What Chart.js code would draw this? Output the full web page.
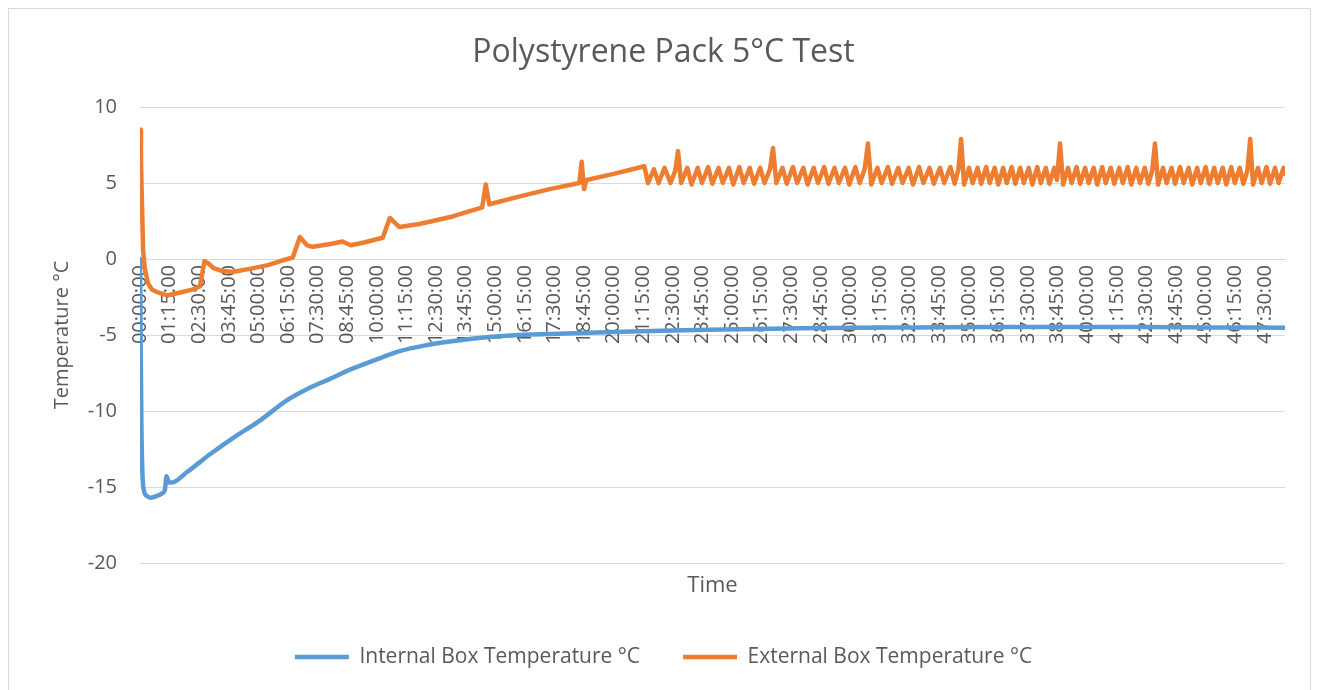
<!DOCTYPE html>
<html><head><meta charset="utf-8">
<script src="https://cdn.jsdelivr.net/npm/chart.js@4.4.1/dist/chart.umd.min.js"></script>
<style>
html,body{margin:0;padding:0;background:#fff;}
#wrap{position:relative;width:1319px;height:690px;overflow:hidden;}
#frame{position:absolute;left:8px;top:8px;width:1303px;height:700px;border:1px solid #d9d9d9;box-sizing:border-box;pointer-events:none;}
canvas{display:block;}
</style></head><body>
<div id="wrap"><canvas id="c" width="1319" height="690"></canvas><div id="frame"></div></div>
<script>
// Tick labels of the time axis
const xTickLabels = ["00:00:00","01:15:00","02:30:00","03:45:00","05:00:00","06:15:00","07:30:00","08:45:00","10:00:00","11:15:00","12:30:00","13:45:00","15:00:00","16:15:00","17:30:00","18:45:00","20:00:00","21:15:00","22:30:00","23:45:00","25:00:00","26:15:00","27:30:00","28:45:00","30:00:00","31:15:00","32:30:00","33:45:00","35:00:00","36:15:00","37:30:00","38:45:00","40:00:00","41:15:00","42:30:00","43:45:00","45:00:00","46:15:00","47:30:00"];

// Internal box temperature (hours since start, °C)
const internalHours = [0,0.03,0.06,0.1,0.16,0.3,0.45,0.7,0.95,1.05,1.12,1.22,1.35,2.0,3.0,4.0,5.0,6.2,7.0,8.0,9.0,10.0,11.0,12.0,13.0,14.0,15.0,16.0,18.0,20.0,22.0,24.0,26.0,28.0,30.0,33.0,36.0,39.0,42.0,45.0,48.35];
const internalTemps = [0,-6,-11,-14,-15.2,-15.6,-15.7,-15.6,-15.4,-15.2,-14.3,-14.7,-14.7,-14.0,-12.8,-11.7,-10.7,-9.3,-8.6,-7.9,-7.2,-6.6,-6.05,-5.7,-5.45,-5.25,-5.1,-5.0,-4.9,-4.8,-4.72,-4.65,-4.6,-4.55,-4.52,-4.5,-4.48,-4.47,-4.48,-4.5,-4.52];

// External box temperature: warm-up part (hours, °C)
const externalWarmupHours = [0,0.04,0.08,0.13,0.2,0.34,0.5,0.76,1.14,1.7,2.24,2.53,2.72,2.9,3.1,3.4,3.9,4.8,5.4,6.0,6.45,6.75,7.05,7.3,8.1,8.55,8.9,9.5,10.25,10.55,10.95,11.8,13.2,14.45,14.6,14.75,16.0,17.3,18.55,18.65,18.75,18.85,20.0,21.3,21.45,21.7,21.9,22.15,22.4,22.6,22.72,22.85];
const externalWarmupTemps = [8.5,6.5,3.9,0.6,-0.6,-1.6,-2.0,-2.2,-2.4,-2.2,-2.0,-1.8,-0.15,-0.3,-0.6,-0.75,-0.85,-0.6,-0.4,-0.1,0.1,1.45,0.9,0.8,1.0,1.15,0.9,1.1,1.4,2.7,2.1,2.3,2.8,3.4,4.9,3.6,4.1,4.6,5.0,6.4,4.6,5.2,5.6,6.1,5.0,5.9,5.0,6.0,5.0,5.8,7.1,5.0];

// External box temperature: thermostat cycling part (hours, °C)
const externalCycleHours = [
  23.11,23.29,23.55,23.73,23.99,24.17,24.43,24.61,24.87,25.05,25.31,25.49,25.75,25.93,26.19,26.37,26.6,26.73,26.87,
  27.13,27.31,27.57,27.75,28.01,28.19,28.45,28.63,28.89,29.07,29.33,29.51,29.77,29.95,30.21,30.39,30.6,30.74,30.88,
  31.14,31.32,31.58,31.76,32.02,32.2,32.46,32.64,32.9,33.08,33.34,33.52,33.78,33.96,34.22,34.4,34.56,34.67,34.8,
  35.01,35.16,35.37,35.52,35.73,35.88,36.09,36.24,36.45,36.6,36.81,36.96,37.17,37.32,37.53,37.68,37.89,38.04,38.25,38.4,38.61,38.72,38.85,38.98,
  39.19,39.34,39.55,39.7,39.91,40.06,40.27,40.42,40.63,40.78,40.99,41.14,41.35,41.5,41.71,41.86,42.07,42.22,42.43,42.58,42.74,42.86,42.99,
  43.2,43.35,43.56,43.71,43.92,44.07,44.28,44.43,44.64,44.79,45.0,45.15,45.36,45.51,45.72,45.87,46.08,46.23,46.44,46.59,46.76,46.88,47.0,
  47.21,47.36,47.57,47.72,47.93,48.08,48.29,48.35];
const externalCycleTemps = [
  6.0,4.9,6.0,5.0,6.05,4.95,6.0,5.0,6.0,4.9,6.05,5.0,6.0,4.95,6.0,5.0,5.9,7.3,5.0,
  6.0,4.95,6.05,5.0,6.0,4.9,6.0,5.0,6.05,4.95,6.0,5.0,6.0,4.9,6.05,5.0,5.9,7.6,4.9,
  6.0,5.0,6.05,4.95,6.0,5.0,6.0,4.9,6.05,5.0,6.0,4.95,6.0,5.0,6.05,4.95,5.9,7.9,4.9,
  6.0,5.0,6.0,4.95,6.05,5.0,6.0,4.9,6.0,5.0,6.05,4.95,6.0,5.0,6.0,4.9,6.05,5.0,6.0,4.95,6.0,5.2,7.6,4.9,
  6.0,5.0,6.05,4.95,6.0,5.0,6.0,4.9,6.05,5.0,6.0,4.95,6.0,5.0,6.05,4.9,6.0,5.0,6.0,4.95,5.8,7.6,4.9,
  6.0,5.0,6.0,4.95,6.05,5.0,6.0,4.9,6.0,5.0,6.05,4.95,6.0,5.0,6.0,4.9,6.05,5.0,6.0,4.95,5.8,7.9,4.9,
  6.0,5.0,6.05,4.95,6.0,5.0,6.0,5.6];

const externalHours = externalWarmupHours.concat(externalCycleHours);
const externalTemps = externalWarmupTemps.concat(externalCycleTemps);

const FONT = "'Open Sans', sans-serif";
const TEXT = '#595959';
const GRID = '#d9d9d9';

function hmsToHours(s){ const p = s.split(':').map(Number); return p[0] + p[1]/60 + p[2]/3600; }
function toPoints(xs, ys){ return xs.map((x,i)=>({x:x, y:ys[i]})); }
const xMax = Math.max(internalHours[internalHours.length-1], externalHours[externalHours.length-1]);

new Chart(document.getElementById('c'), {
  type: 'line',
  data: {
    datasets: [
      { label: 'Internal Box Temperature °C', data: toPoints(internalHours, internalTemps),
        borderColor: '#5B9BD5', backgroundColor: '#5B9BD5', borderWidth: 4.5, pointRadius: 0,
        borderCapStyle: 'round', borderJoinStyle: 'round',
        cubicInterpolationMode: 'monotone', order: 2 },
      { label: 'External Box Temperature °C', data: toPoints(externalHours, externalTemps),
        borderColor: '#ED7D31', backgroundColor: '#ED7D31', borderWidth: 4.5, pointRadius: 0,
        borderCapStyle: 'round', borderJoinStyle: 'round',
        tension: 0, order: 1 }
    ]
  },
  options: {
    responsive: false, animation: false, devicePixelRatio: 1,
    layout: { padding: { left: 42, right: 34, top: 0, bottom: 12.5 } },
    plugins: {
      title: { display: true, text: 'Polystyrene Pack 5°C Test', color: TEXT,
        font: { family: FONT, size: 32, weight: 'normal' }, padding: { top: 33.8, bottom: 34.8 } },
      legend: { position: 'bottom',
        labels: { usePointStyle: true, pointStyle: 'line', pointStyleWidth: 54, color: TEXT,
          font: { family: FONT, size: 21 }, padding: 43,
          sort: (a, b) => a.datasetIndex - b.datasetIndex } },
      tooltip: { enabled: false }
    },
    scales: {
      x: { type: 'linear', position: { y: 0 }, min: 0, max: xMax,
        afterBuildTicks: (s) => { s.ticks = xTickLabels.map(l => ({ value: hmsToHours(l) })); },
        ticks: { autoSkip: false, maxRotation: 90, minRotation: 90, padding: 6, color: TEXT,
          font: { family: FONT, size: 20 }, callback: (v, i) => xTickLabels[i] },
        grid: { display: false, drawTicks: false },
        border: { display: true, color: GRID, width: 1 } },
      x2: { type: 'linear', position: 'bottom', axis: 'x', min: 0, max: 1,
        ticks: { display: false }, grid: { display: false, drawTicks: false }, border: { display: false },
        title: { display: true, text: 'Time', color: TEXT, font: { family: FONT, size: 22 }, padding: { top: 0, bottom: 5 } },
        afterFit: (s) => { s.height = 40.5; } },
      y: { min: -20, max: 10,
        ticks: { stepSize: 5, padding: 23, color: TEXT, font: { family: FONT, size: 20 } },
        grid: { color: GRID, drawTicks: false }, border: { display: false },
        title: { display: true, text: 'Temperature °C', color: TEXT, font: { family: FONT, size: 20 }, padding: { top: 8, bottom: 0 } },
        afterFit: (s) => { s.width = 98; } }
    }
  }
});
</script>
</body></html>
